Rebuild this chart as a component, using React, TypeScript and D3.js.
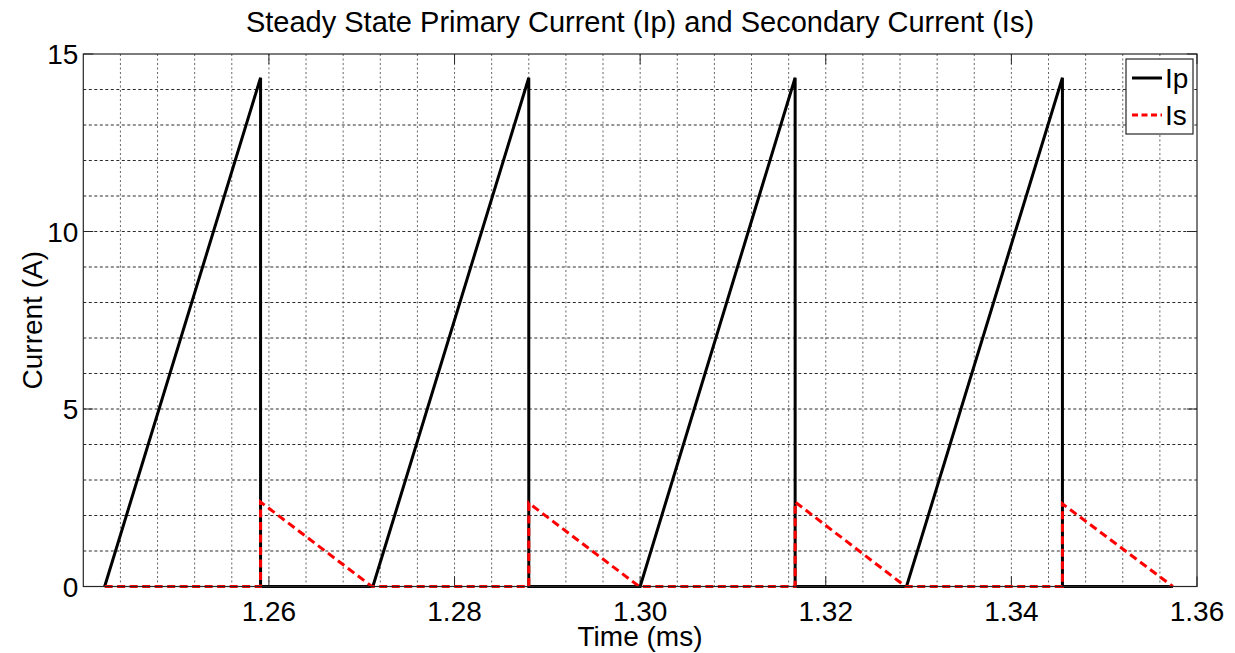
import React from "react";
import * as d3 from "d3";

const ipTime = [1.2423, 1.2591, 1.2591, 1.2712, 1.288, 1.288, 1.3, 1.3167, 1.3167, 1.3287, 1.3455, 1.3455, 1.3574];
const ipValue = [0, 14.33, 0, 0, 14.33, 0, 0, 14.33, 0, 0, 14.33, 0, 0];
const isTime = [1.2423, 1.2591, 1.2591, 1.2711, 1.288, 1.288, 1.2999, 1.3167, 1.3167, 1.3286, 1.3455, 1.3455, 1.3574];
const isValue = [0, 0, 2.38, 0, 0, 2.35, 0, 0, 2.38, 0, 0, 2.33, 0];
const xTicks = [1.26, 1.28, 1.3, 1.32, 1.34, 1.36];
const xTickLabels = ["1.26", "1.28", "1.30", "1.32", "1.34", "1.36"];
const yTicks = [0, 5, 10, 15];
const xMinorGrid = d3.range(1.244, 1.3595, 0.004);
const yMinorGrid = d3.range(1, 15, 1);
const seriesNames = ["Ip", "Is"];

const W = 1235;
const H = 653;
const L = 83.3, R = 1197, T = 54, B = 586.5;
const FONT = "'Liberation Sans', Arial, sans-serif";

export default function App() {
  const x = d3.scaleLinear().domain([1.24, 1.36]).range([L, R]);
  const y = d3.scaleLinear().domain([0, 15]).range([B, T]);
  const line = d3.line<[number, number]>().x((d) => x(d[0])).y((d) => y(d[1]));
  const ipPts = ipTime.map((t, i) => [t, ipValue[i]] as [number, number]);
  const isPts = isTime.map((t, i) => [t, isValue[i]] as [number, number]);
  const tickLen = 10;
  return (
    <svg width={W} height={H} style={{ position: "absolute", left: 0, top: 0, background: "#fff" }}>
      <rect x={0} y={0} width={W} height={H} fill="#fff" />
      {/* grid */}
      {xMinorGrid.map((v, i) => (
        <line key={"gx" + i} x1={x(v)} x2={x(v)} y1={T} y2={B} stroke="#666" strokeWidth={1} strokeDasharray="2,2.5" />
      ))}
      {yMinorGrid.map((v, i) => (
        <line key={"gy" + i} x1={L} x2={R} y1={y(v)} y2={y(v)} stroke="#2a2a2a" strokeWidth={1} strokeDasharray="3,2.5" />
      ))}
      {/* ticks */}
      {xTicks.map((v, i) => (
        <g key={"xt" + i}>
          <line x1={x(v)} x2={x(v)} y1={B} y2={B - tickLen} stroke="#262626" strokeWidth={1} />
          <line x1={x(v)} x2={x(v)} y1={T} y2={T + tickLen} stroke="#262626" strokeWidth={1} />
          <text x={x(v)} y={B + 34} fontSize={28} fontFamily={FONT} textAnchor="middle" fill="#000">{xTickLabels[i]}</text>
        </g>
      ))}
      {yTicks.map((v, i) => (
        <g key={"yt" + i}>
          <line x1={L} x2={L + tickLen} y1={y(v)} y2={y(v)} stroke="#262626" strokeWidth={1} />
          <line x1={R} x2={R - tickLen} y1={y(v)} y2={y(v)} stroke="#262626" strokeWidth={1} />
          <text x={L - 5} y={y(v) + 10} fontSize={28} fontFamily={FONT} textAnchor="end" fill="#000">{v}</text>
        </g>
      ))}
      {/* series */}
      <path d={line(ipPts) || ""} fill="none" stroke="#000" strokeWidth={3} strokeLinejoin="miter" />
      <path d={line(isPts) || ""} fill="none" stroke="#ff0000" strokeWidth={3} strokeDasharray="8,4.5" />
      {/* box */}
      <rect x={L} y={T} width={R - L} height={B - T} fill="none" stroke="#262626" strokeWidth={1.2} />
      {/* legend */}
      <rect x={1126} y={59} width={67} height={75} fill="#fff" stroke="#262626" strokeWidth={1.2} />
      <line x1={1132} x2={1162} y1={78} y2={78} stroke="#000" strokeWidth={3} />
      <line x1={1132} x2={1162} y1={115} y2={115} stroke="#ff0000" strokeWidth={3} strokeDasharray="6,3.5" />
      <text x={1165} y={88} fontSize={28} fontFamily={FONT} fill="#000">{seriesNames[0]}</text>
      <text x={1165} y={125} fontSize={28} fontFamily={FONT} fill="#000">{seriesNames[1]}</text>
      {/* titles */}
      <text x={640} y={32} fontSize={29} fontFamily={FONT} textAnchor="middle" fill="#000">
        Steady State Primary Current (Ip) and Secondary Current (Is)
      </text>
      <text x={640} y={646} fontSize={28} fontFamily={FONT} textAnchor="middle" fill="#000">Time (ms)</text>
      <text transform={`translate(42,${(T + B) / 2}) rotate(-90)`} fontSize={28} fontFamily={FONT} textAnchor="middle" fill="#000">
        Current (A)
      </text>
    </svg>
  );
}
